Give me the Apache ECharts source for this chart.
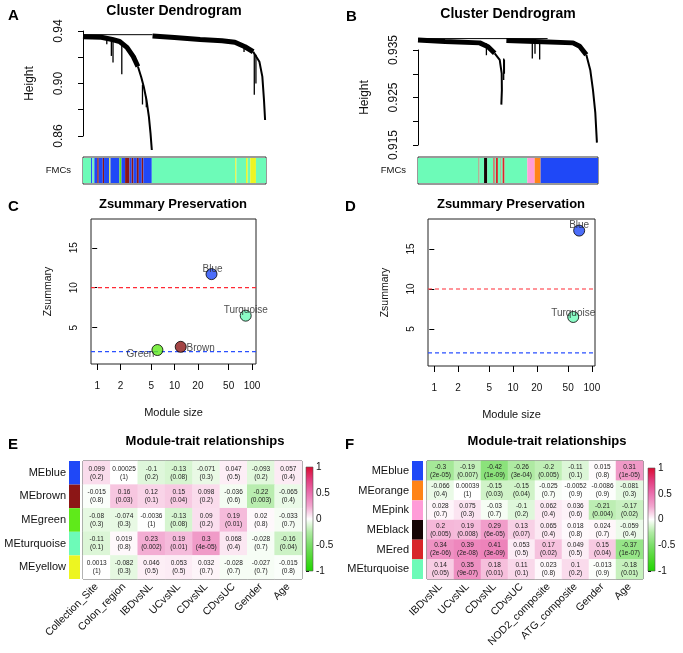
<!DOCTYPE html>
<html>
<head>
<meta charset="utf-8">
<script src="https://cdn.jsdelivr.net/npm/echarts@6/dist/echarts.min.js"></script>
<style>
  html, body { margin: 0; padding: 0; background: #fff; }
  #chart { width: 683px; height: 653px; }
</style>
</head>
<body>
<div id="chart"></div>
<script>
// module colours (WGCNA names)
const moduleColors = {
  turquoise: '#6DFBB8', blue: '#1F48F7', brown: '#8C1616', green: '#5FEA1A',
  yellow: '#EDF521', black: '#150505', red: '#D8262A', pink: '#FF9CD8', orange: '#FF8418'
};

// ---- A: dendrogram, leaf position (0..1) and height ----
const aRoot = [[0.0, 0.9372], [0.38, 0.9372]];
const aLeftBand = [[0.0, 0.9357], [0.1, 0.9352], [0.16, 0.9335], [0.2, 0.932], [0.24, 0.9275], [0.275, 0.9205], [0.3, 0.913]];
const aLeftTail = [[0.3, 0.913], [0.318, 0.905], [0.332, 0.8976], [0.347, 0.8874], [0.36, 0.8747], [0.369, 0.862], [0.376, 0.8493]];
const aRightBand = [[0.38, 0.9362], [0.5, 0.935], [0.64, 0.9336], [0.76, 0.9325], [0.83, 0.9315], [0.885, 0.928], [0.93, 0.9242]];
const aRightTail = [[0.93, 0.9242], [0.964, 0.9166], [0.98, 0.9052], [0.989, 0.8874], [0.995, 0.8722]];
const aSpikes = [[0.13, 0.934, 0.93], [0.155, 0.933, 0.921], [0.164, 0.933, 0.916], [0.212, 0.932, 0.907],
  [0.325, 0.899, 0.884], [0.346, 0.89, 0.882], [0.88, 0.929, 0.924], [0.936, 0.923, 0.8915], [0.945, 0.922, 0.9]];
const aSegments = [
  [0, 0.044, 'turquoise'], [0.044, 0.051, 'blue'], [0.051, 0.062, 'turquoise'], [0.062, 0.078, 'blue'],
  [0.078, 0.086, 'brown'], [0.086, 0.108, 'blue'], [0.108, 0.115, 'brown'], [0.115, 0.144, 'blue'],
  [0.144, 0.150, 'yellow'], [0.150, 0.199, 'blue'], [0.199, 0.210, 'green'], [0.210, 0.230, 'blue'],
  [0.230, 0.254, 'brown'], [0.254, 0.266, 'blue'], [0.266, 0.276, 'brown'], [0.276, 0.294, 'blue'],
  [0.294, 0.305, 'brown'], [0.305, 0.321, 'blue'], [0.321, 0.330, 'brown'], [0.330, 0.376, 'blue'],
  [0.376, 0.832, 'turquoise'], [0.832, 0.838, 'yellow'], [0.838, 0.891, 'turquoise'], [0.891, 0.900, 'yellow'],
  [0.900, 0.914, 'turquoise'], [0.914, 0.945, 'yellow'], [0.945, 1.0, 'turquoise']
];

// ---- B: dendrogram ----
const bRoot = [[0.0, 0.9374], [0.72, 0.9374]];
const bLeftBand = [[0.0, 0.9371], [0.15, 0.9368], [0.343, 0.9365], [0.389, 0.9357], [0.426, 0.9343]];
const bLeftTail = [[0.426, 0.9343], [0.454, 0.9329], [0.465, 0.9301], [0.466, 0.9266], [0.463, 0.9235]];
const bRightBand = [[0.491, 0.937], [0.65, 0.9368], [0.861, 0.9365], [0.898, 0.9358], [0.935, 0.934]];
const bRightTail = [[0.935, 0.934], [0.957, 0.9308], [0.972, 0.9266], [0.985, 0.9218], [0.994, 0.9155]];
const bSpikes = [[0.38, 0.9364, 0.9339], [0.476, 0.9332, 0.9287], [0.48, 0.933, 0.930], [0.635, 0.9366, 0.9332],
  [0.65, 0.9366, 0.9342], [0.676, 0.9366, 0.933]];
const bSegments = [
  [0, 0.337, 'turquoise'], [0.337, 0.341, 'red'], [0.341, 0.367, 'turquoise'], [0.367, 0.385, 'black'],
  [0.385, 0.419, 'turquoise'], [0.419, 0.426, 'red'], [0.426, 0.433, 'turquoise'], [0.433, 0.444, 'red'],
  [0.444, 0.456, 'turquoise'], [0.456, 0.459, 'red'], [0.459, 0.470, 'turquoise'], [0.470, 0.481, 'red'],
  [0.481, 0.607, 'turquoise'], [0.607, 0.648, 'pink'], [0.648, 0.681, 'orange'], [0.681, 1.0, 'blue']
];

// ---- C / D: preservation ----
const namesC = ['Blue', 'Turquoise', 'Brown', 'Green'];
const sizeC = [30, 83, 12, 6];
const zsumC = [11.7, 6.5, 2.6, 2.2];
const namesD = ['Blue', 'Turquoise'];
const sizeD = [69, 58];
const zsumD = [17.3, 6.5];
const zThresholds = [10, 2];
const sizeTicks = [1, 2, 5, 10, 20, 50, 100];
const zTicks = [5, 10, 15];

// ---- E / F: module-trait relationships ----
const modulesE = ['blue', 'brown', 'green', 'turquoise', 'yellow'];
const traitsE = ['Collection_Site', 'Colon_region', 'IBDvsNL', 'UCvsNL', 'CDvsNL', 'CDvsUC', 'Gender', 'Age'];
const corE = [
  [0.099, 0.00025, -0.1, -0.13, -0.071, 0.047, -0.093, 0.057],
  [-0.015, 0.16, 0.12, 0.15, 0.098, -0.036, -0.22, -0.065],
  [-0.08, -0.074, -0.0036, -0.13, 0.09, 0.19, 0.02, -0.033],
  [-0.11, 0.019, 0.23, 0.19, 0.3, 0.068, -0.028, -0.16],
  [0.0013, -0.082, 0.046, 0.053, 0.032, -0.028, -0.027, -0.015]
];
const pE = [
  ['0.2', '1', '0.2', '0.08', '0.3', '0.5', '0.2', '0.4'],
  ['0.8', '0.03', '0.1', '0.04', '0.2', '0.6', '0.003', '0.4'],
  ['0.3', '0.3', '1', '0.08', '0.2', '0.01', '0.8', '0.7'],
  ['0.1', '0.8', '0.002', '0.01', '4e-05', '0.4', '0.7', '0.04'],
  ['1', '0.3', '0.5', '0.5', '0.7', '0.7', '0.7', '0.8']
];
const modulesF = ['blue', 'orange', 'pink', 'black', 'red', 'turquoise'];
const traitsF = ['IBDvsNL', 'UCvsNL', 'CDvsNL', 'CDvsUC', 'NOD2_composite', 'ATG_composite', 'Gender', 'Age'];
const corF = [
  [-0.3, -0.19, -0.42, -0.26, -0.2, -0.11, 0.015, 0.31],
  [-0.066, 0.00039, -0.15, -0.15, -0.025, -0.0052, -0.0086, -0.081],
  [0.028, 0.075, -0.03, -0.1, 0.062, 0.036, -0.21, -0.17],
  [0.2, 0.19, 0.29, 0.13, 0.065, 0.018, 0.024, -0.059],
  [0.34, 0.39, 0.41, 0.053, 0.17, 0.049, 0.15, -0.37],
  [0.14, 0.35, 0.18, 0.11, 0.023, 0.1, -0.013, -0.18]
];
const pF = [
  ['2e-05', '0.007', '1e-09', '3e-04', '0.005', '0.1', '0.8', '1e-05'],
  ['0.4', '1', '0.03', '0.04', '0.7', '0.9', '0.9', '0.3'],
  ['0.7', '0.3', '0.7', '0.2', '0.4', '0.6', '0.004', '0.02'],
  ['0.005', '0.008', '6e-05', '0.07', '0.4', '0.8', '0.7', '0.4'],
  ['2e-06', '2e-08', '3e-09', '0.5', '0.02', '0.5', '0.04', '1e-07'],
  ['0.05', '9e-07', '0.01', '0.1', '0.8', '0.2', '0.9', '0.01']
];

// green - white - red scale, -1 .. 1
const heatColors = ['#1ED800', '#4FD930', '#7ADE68', '#B0EBA4', '#FFFFFF', '#F2A6CF', '#EA6FAE', '#E23C7E', '#DA0A30'];

const FONT = "'Liberation Sans', Arial, Helvetica, sans-serif";
const INK = '#111';

const chart = echarts.init(document.getElementById('chart'));

const grids = [];
const xAxes = [];
const yAxes = [];
const series = [];

function addGrid(left, top, width, height, border) {
  grids.push({
    left: left, top: top, width: width, height: height, outerBoundsMode: 'none',
    show: !!border, borderColor: border || 'transparent', borderWidth: 1, backgroundColor: 'transparent'
  });
  return grids.length - 1;
}

function hiddenValueAxis(g, min, max) {
  return { gridIndex: g, type: 'value', min: min, max: max, show: false };
}

// ---------- dendrogram panels ----------
function dendroPanel(g, gBar, ymin, ymax, step, labelVals, digits, root, bands, tails, spikes, segs) {
  xAxes[g] = hiddenValueAxis(g, 0, 1);
  yAxes[g] = {
    gridIndex: g, type: 'value', min: ymin, max: ymax, interval: step, offset: 5,
    name: 'Height', nameLocation: 'middle', nameRotate: 90, nameGap: 42,
    nameTextStyle: { fontSize: 12, color: INK },
    axisLine: { show: true, lineStyle: { color: '#000', width: 1 } },
    axisTick: { show: true, length: 5, lineStyle: { color: '#000' } },
    axisLabel: {
      rotate: 90, fontSize: 12, color: INK, margin: 13,
      customValues: labelVals, formatter: v => v.toFixed(digits)
    },
    splitLine: { show: false }
  };
  const lineSeries = (data, w) => ({
    type: 'line', xAxisIndex: g, yAxisIndex: g, data: data, showSymbol: false, clip: false,
    lineStyle: { color: '#000', width: w }, silent: true, animation: false
  });
  series.push(lineSeries(root, 1));
  bands.forEach(b => series.push(lineSeries(b, 5)));
  tails.forEach(t => series.push(lineSeries(t, 2)));
  series.push({
    type: 'custom', xAxisIndex: g, yAxisIndex: g, silent: true, animation: false,
    data: spikes.map(s => [s[0], s[1], s[2]]),
    renderItem: (params, api) => {
      const p0 = api.coord([api.value(0), api.value(1)]);
      const p1 = api.coord([api.value(0), api.value(2)]);
      return { type: 'line', shape: { x1: p0[0], y1: p0[1], x2: p1[0], y2: p1[1] }, style: { stroke: '#000', lineWidth: 1.3 } };
    }
  });

  xAxes[gBar] = hiddenValueAxis(gBar, 0, 1);
  yAxes[gBar] = {
    gridIndex: gBar, type: 'category', data: ['FMCs'],
    axisLine: { show: false }, axisTick: { show: false },
    axisLabel: { fontSize: 9.5, color: INK, margin: 12 }
  };
  series.push({
    type: 'custom', xAxisIndex: gBar, yAxisIndex: gBar, silent: true, animation: false,
    data: segs.map(s => [s[0], s[1]]),
    renderItem: (params, api) => {
      const s = segs[params.dataIndex];
      const c = api.coord([s[0], 0]);
      const c1 = api.coord([s[1], 0]);
      const sz = api.size([0, 1]);
      return {
        type: 'rect',
        shape: { x: c[0], y: c[1] - sz[1] / 2 + 1, width: c1[0] - c[0], height: sz[1] - 2 },
        style: { fill: moduleColors[s[2]] }
      };
    }
  });
}

const gA = addGrid(83, 31, 183, 105);
const gAbar = addGrid(83, 157, 183, 27, '#333');
const gB = addGrid(418, 50, 180, 95);
const gBbar = addGrid(418, 157, 180, 27, '#333');
dendroPanel(gA, gAbar, 0.86, 0.94, 0.02, [0.86, 0.90, 0.94], 2,
  aRoot, [aLeftBand, aRightBand], [aLeftTail, aRightTail], aSpikes, aSegments);
dendroPanel(gB, gBbar, 0.915, 0.935, 0.005, [0.915, 0.925, 0.935], 3,
  bRoot, [bLeftBand, bRightBand], [bLeftTail, bRightTail], bSpikes, bSegments);

// ---------- preservation panels ----------
const labelOffsets = {
  C: { Blue: [1, -5], Turquoise: [0, -5], Brown: [20, 1], Green: [-17, 4] },
  D: { Blue: [0, -5], Turquoise: [0, -4] }
};
const thresholdColors = ['#FF2A35', '#2A50FF'];
function preservationPanel(g, key, names, sizes, zs, xmin, xmax, ymin, ymax) {
  const logTicks = sizeTicks.map(v => Math.log10(v));
  xAxes[g] = {
    gridIndex: g, type: 'value', min: xmin, max: xmax,
    name: 'Module size', nameLocation: 'middle', nameGap: 43,
    nameTextStyle: { fontSize: 11, color: INK },
    axisLine: { show: false },
    axisTick: { show: true, length: 6, customValues: logTicks, lineStyle: { color: '#000' } },
    axisLabel: {
      fontSize: 10, color: INK, margin: 17, customValues: logTicks,
      formatter: v => String(Math.round(Math.pow(10, v)))
    },
    splitLine: { show: false }
  };
  yAxes[g] = {
    gridIndex: g, type: 'value', min: ymin, max: ymax,
    name: 'Zsummary', nameLocation: 'middle', nameRotate: 90, nameGap: 37,
    nameTextStyle: { fontSize: 10.5, color: INK },
    axisLine: { show: false },
    axisTick: { show: true, length: 5, customValues: zTicks, lineStyle: { color: '#000' } },
    axisLabel: { rotate: 90, fontSize: 10, color: INK, margin: 12, customValues: zTicks },
    splitLine: { show: false }
  };
  // dashed threshold lines across the whole plot
  zThresholds.forEach((t, i) => {
    series.push({
      type: 'line', xAxisIndex: g, yAxisIndex: g, silent: true, animation: false,
      data: [[xmin, t], [xmax, t]], showSymbol: false,
      lineStyle: { color: thresholdColors[i], type: [4, 3], width: 1.2 }
    });
  });
  series.push({
    type: 'scatter', xAxisIndex: g, yAxisIndex: g, symbolSize: 11, animation: false, z: 5,
    data: names.map((n, i) => ({
      value: [Math.log10(sizes[i]), zs[i]],
      itemStyle: { color: moduleColors[n.toLowerCase()], borderColor: '#000', borderWidth: 1 },
      label: { show: true, position: 'inside', offset: labelOffsets[key][n], formatter: n, fontSize: 10, color: '#222' }
    }))
  });
}
const gC = addGrid(91, 219, 165, 145, '#222');
const gD = addGrid(428, 219, 167, 147, '#222');
preservationPanel(gC, 'C', namesC, sizeC, zsumC, -0.08, 2.052, 0.45, 18.6);
preservationPanel(gD, 'D', namesD, sizeD, zsumD, -0.08, 2.04, 0.37, 18.75);

// ---------- module-trait heatmaps ----------
const heatSeries = [];
function heatPanel(gHeat, gSw, gLeg, modules, traits, cor, pv) {
  xAxes[gHeat] = {
    gridIndex: gHeat, type: 'category', data: traits,
    axisLine: { show: false }, axisTick: { show: false },
    axisLabel: { interval: 0, rotate: 45, fontSize: 10.5, color: INK, margin: 6 },
    splitLine: { show: false }
  };
  yAxes[gHeat] = {
    gridIndex: gHeat, type: 'category', data: modules.map(m => 'ME' + m), inverse: true, show: false
  };
  const data = [];
  cor.forEach((row, r) => row.forEach((v, c) => data.push([c, r, v])));
  series.push({
    type: 'heatmap', xAxisIndex: gHeat, yAxisIndex: gHeat, data: data, animation: false,
    emphasis: { disabled: true },
    label: {
      show: true, fontSize: 6.5, lineHeight: 8, color: '#222',
      formatter: p => p.value[2] + '\n(' + pv[p.value[1]][p.value[0]] + ')'
    }
  });
  heatSeries.push(series.length - 1);

  // module colour swatches with row names
  xAxes[gSw] = hiddenValueAxis(gSw, 0, 1);
  yAxes[gSw] = {
    gridIndex: gSw, type: 'category', data: modules.map(m => 'ME' + m), inverse: true,
    axisLine: { show: false }, axisTick: { show: false },
    axisLabel: { fontSize: 11, color: INK, margin: 3 }
  };
  series.push({
    type: 'bar', xAxisIndex: gSw, yAxisIndex: gSw, barWidth: '100%', silent: true, animation: false,
    data: modules.map(m => ({ value: 1, itemStyle: { color: moduleColors[m] } }))
  });

  // colour key
  xAxes[gLeg] = hiddenValueAxis(gLeg, 0, 1);
  yAxes[gLeg] = {
    gridIndex: gLeg, type: 'value', min: -1, max: 1, interval: 0.5, position: 'right',
    axisLine: { show: false },
    axisTick: { show: true, length: 3, lineStyle: { color: '#000' } },
    axisLabel: { fontSize: 10, color: INK, margin: 3 },
    splitLine: { show: false }
  };
  series.push({
    type: 'custom', xAxisIndex: gLeg, yAxisIndex: gLeg, silent: true, animation: false,
    data: [[0, 0]],
    renderItem: (params, api) => {
      const tl = api.coord([0, 1]);
      const br = api.coord([1, -1]);
      const n = heatColors.length;
      return {
        type: 'rect',
        shape: { x: tl[0], y: tl[1], width: br[0] - tl[0], height: br[1] - tl[1] },
        style: {
          fill: {
            type: 'linear', x: 0, y: 0, x2: 0, y2: 1,
            colorStops: heatColors.map((c, i) => ({ offset: 1 - i / (n - 1), color: c }))
          },
          stroke: '#555', lineWidth: 0.6
        }
      };
    }
  });
}
const gE = addGrid(83, 461, 219, 118, '#333');
const gEsw = addGrid(69, 461, 11, 118);
const gEleg = addGrid(306, 467, 7, 104);
const gF = addGrid(427, 461, 216, 118, '#333');
const gFsw = addGrid(412, 461, 11, 118);
const gFleg = addGrid(648, 468, 7, 103);
heatPanel(gE, gEsw, gEleg, modulesE, traitsE, corE, pE);
heatPanel(gF, gFsw, gFleg, modulesF, traitsF, corF, pF);

// ---------- titles & panel letters ----------
const bigTitle = (text, x, y, size) => ({
  text: text, left: x, top: y, textAlign: 'center', padding: 0,
  textStyle: { fontSize: size, fontWeight: 'bold', color: '#000', fontFamily: FONT }
});
const letter = (text, x, y) => ({
  text: text, left: x, top: y, padding: 0,
  textStyle: { fontSize: 15, fontWeight: 'bold', color: '#000', fontFamily: FONT }
});

chart.setOption({
  animation: false,
  backgroundColor: '#fff',
  textStyle: { fontFamily: FONT },
  title: [
    letter('A', 8, 8), letter('B', 346, 9), letter('C', 8, 199), letter('D', 345, 199),
    letter('E', 8, 437), letter('F', 345, 437),
    bigTitle('Cluster Dendrogram', 174, 4, 14),
    bigTitle('Cluster Dendrogram', 508, 7, 14),
    bigTitle('Zsummary Preservation', 173, 198, 13),
    bigTitle('Zsummary Preservation', 511, 198, 13),
    bigTitle('Module-trait relationships', 205, 435, 13),
    bigTitle('Module-trait relationships', 547, 435, 13)
  ],
  grid: grids,
  xAxis: xAxes,
  yAxis: yAxes,
  visualMap: {
    type: 'continuous', min: -1, max: 1, show: false, seriesIndex: heatSeries,
    inRange: { color: heatColors }
  },
  series: series
});
</script>
</body>
</html>
